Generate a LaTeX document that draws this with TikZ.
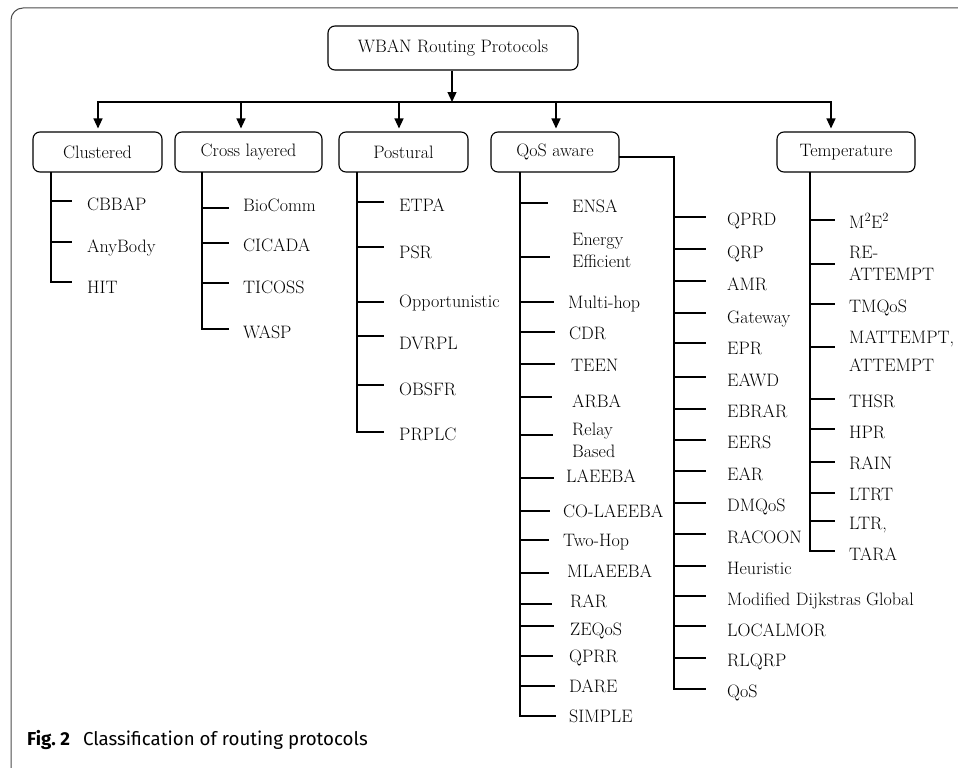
\documentclass[tikz,border=0pt]{standalone}
\usepackage{fontspec}
\newfontfamily\capfont{Fira Sans}
\usetikzlibrary{arrows.meta}
\begin{document}
\begin{tikzpicture}[x=1pt,y=-1pt,
  every node/.style={font=\fontsize{18}{22}\selectfont, inner sep=0pt},
  catbox/.style={draw, rounded corners=7pt, line width=1.1pt, minimum height=40pt},
  ln/.style={line width=1.3pt, line cap=rect},
  arr/.style={line width=1.3pt, -{Triangle[length=10pt,width=9pt]}},
  lbl/.style={anchor=base west, align=left},
]
\useasboundingbox (0,0) rectangle (958,768);
\begin{scope}
  \clip (0,0) rectangle (958,768);
  \draw[black!70, line width=1pt, rounded corners=12pt] (11,8) rectangle (990,800);
\end{scope}

% boxes
\node[catbox, minimum width=250pt, minimum height=44pt] (root) at (453,48) {WBAN Routing Protocols};
\node[catbox, minimum width=129pt] (clus) at (97.5,152) {Clustered};
\node[catbox, minimum width=147pt] (cross) at (248.5,152) {Cross layered};
\node[catbox, minimum width=129pt] (post) at (403.5,152) {Postural};
\node[catbox, minimum width=128pt] (qos) at (555,152) {QoS aware};
\node[catbox, minimum width=138pt] (temp) at (846,152) {Temperature};

% top connectors
\coordinate (hm) at (452,102);
\coordinate (h1) at (98,102);
\coordinate (h2) at (241,102);
\coordinate (h3) at (399,102);
\coordinate (h4) at (556,102);
\coordinate (h5) at (831,102);
\draw[ln] (h1) -- (h5);
\draw[arr] (root.south -| hm) -- (hm);
\foreach \h/\b in {h1/clus, h2/cross, h3/post, h4/qos, h5/temp}
  \draw[arr, shorten >=3pt] (\h) -- (\h |- \b.north);

% Clustered
\foreach \by/\ly/\t [count=\i] in {201/204/CBBAP, 242/246/AnyBody, 282/287/HIT} {
  \coordinate (ab\i) at (51,\by);
  \coordinate (ae\i) at (71,\by);
  \draw[ln] (ab\i) -- (ae\i);
  \node[lbl] (al\i) at (87,\ly+6) {\t};
}
\draw[ln] (clus.south -| ab1) -- (ab3);

% Cross layered
\foreach \by/\ly/\t [count=\i] in {208/205/BioComm, 243/245/CICADA, 283/287/TICOSS, 329/332/WASP} {
  \coordinate (bb\i) at (202,\by);
  \coordinate (be\i) at (228,\by);
  \draw[ln] (bb\i) -- (be\i);
  \node[lbl] (bl\i) at (243,\ly+6) {\t};
}
\draw[ln] (cross.south -| bb1) -- (bb4);

% Postural
\foreach \by/\ly/\t [count=\i] in {202/205/ETPA, 247/252/PSR, 302/301/Opportunistic, 336/343/DVRPL, 385/389/OBSFR, 432/434/PRPLC} {
  \coordinate (cb\i) at (357,\by);
  \coordinate (ce\i) at (383,\by);
  \draw[ln] (cb\i) -- (ce\i);
  \node[lbl] (cl\i) at (399,\ly+6) {\t};
}
\draw[ln] (post.south -| cb1) -- (cb6);

% QoS aware, left column
\foreach \by/\ex/\lx/\ly/\t [count=\i] in {
  203/547/572/206/ENSA,
  257/549/572/261/{Energy\\Efficient},
  302/553/568/302/Multi-hop,
  332/554/569/333/CDR,
  364/554/571/365/TEEN,
  397/551/572/401/ARBA,
  435/552/572/451/{Relay\\Based},
  478/553/566/476/LAEEBA,
  511/549/563/511/CO-LAEEBA,
  540/548/563/540/Two-Hop,
  573/548/567/571/MLAEEBA,
  604/551/570/601/RAR,
  626/553/570/629/ZEQoS,
  656/552/569/656/QPRR,
  686/554/569/686/DARE,
  716/555/569/716/SIMPLE} {
  \coordinate (db\i) at (520,\by);
  \coordinate (de\i) at (\ex,\by);
  \draw[ln] (db\i) -- (de\i);
  \node[lbl] (dl\i) at (\lx,\ly+6) {\t};
}
\draw[ln] (qos.south -| db1) -- (db16);

% QoS aware, right column
\coordinate (q0) at (674,157);
\foreach \by/\ly/\t [count=\i] in {
  217/219/QPRD, 249/252/QRP, 281/284/AMR, 313/317/Gateway, 343/348/EPR,
  377/380/EAWD, 409/411/EBRAR, 440/442/EERS, 471/474/EAR, 503/505/DMQoS,
  534/537/RACOON, 566/568/Heuristic, 596/599/Modified Dijkstras Global,
  626/630/LOCALMOR, 658/660/RLQRP, 689/691/QoS} {
  \coordinate (eb\i) at (674,\by);
  \coordinate (ee\i) at (705,\by);
  \draw[ln] (eb\i) -- (ee\i);
  \node[lbl] (el\i) at (727,\ly+6) {\t};
}
\draw[ln] (qos.east |- q0) -- (q0) -- (eb16);

% Temperature
\foreach \by/\ly/\t [count=\i] in {
  220/222/{M\textsuperscript{2}E\textsuperscript{2}},
  264/274/{RE-\\ATTEMPT},
  304/306/TMQoS,
  347/365/{MATTEMPT,\\[6pt]ATTEMPT},
  399/401/THSR, 429/432/HPR, 462/463/RAIN, 493/494/LTRT, 521/523/{LTR,}, 551/554/TARA} {
  \coordinate (fb\i) at (810,\by);
  \coordinate (fe\i) at (834,\by);
  \draw[ln] (fb\i) -- (fe\i);
  \node[lbl] (fl\i) at (849,\ly+6) {\t};
}
\draw[ln] (temp.south -| fb1) -- (fb10);

% caption
\node[anchor=base west, font=\capfont\fontsize{18.7}{22}\selectfont] (cap) at (27,745)
  {\textbf{Fig.~2}\hspace{0.7em}Classification of routing protocols};
\end{tikzpicture}
\end{document}
